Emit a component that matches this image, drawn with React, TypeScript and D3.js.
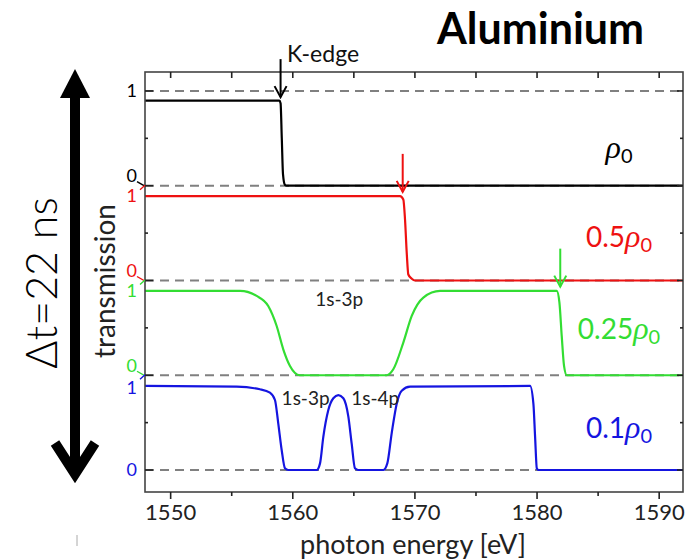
import * as d3 from "d3";

// transmission curves, [photon energy eV, transmission in panel units]
const blackCurve: [number, number][] = [
  [1547.9, 0.897], [1558.9, 0.897], [1559.0, 0.87], [1559.1, 0.5], [1559.2, 0.12],
  [1559.35, 0.01], [1559.5, 0], [1591.95, 0],
];
const redCurve: [number, number][] = [
  [1547.9, 0.89], [1568.78, 0.89], [1569.05, 0.855], [1569.19, 0.644], [1569.33, 0.292],
  [1569.46, 0.063], [1569.74, 0.018], [1570.0, 0], [1591.95, 0],
];
const greenCurve: [number, number][] = [
  [1547.9, 0.89], [1555.68, 0.89], [1557.04, 0.837], [1557.99, 0.731], [1558.68, 0.52],
  [1559.22, 0.274], [1559.77, 0.098], [1560.59, 0], [1567.69, 0], [1568.23, 0.063],
  [1569.05, 0.345], [1569.74, 0.626], [1570.69, 0.82], [1572.06, 0.89], [1581.61, 0.89],
  [1581.83, 0.77], [1582.02, 0.415], [1582.21, 0.098], [1582.43, 0], [1591.95, 0],
];
const blueCurve: [number, number][] = [
  [1547.9, 0.887], [1555.41, 0.879], [1557.31, 0.852], [1558.13, 0.816], [1558.54, 0.739],
  [1558.81, 0.493], [1559.09, 0.211], [1559.36, 0.018], [1559.63, 0], [1561.96, 0],
  [1562.23, 0.07], [1562.5, 0.35], [1562.91, 0.633], [1563.32, 0.757], [1563.73, 0.79],
  [1564.14, 0.757], [1564.55, 0.563], [1564.82, 0.28], [1565.09, 0.018], [1565.36, 0],
  [1567.41, 0], [1567.74, 0.07], [1568.1, 0.39], [1568.51, 0.7], [1568.92, 0.837],
  [1569.6, 0.879], [1579.43, 0.887], [1579.7, 0.7], [1579.84, 0.35], [1579.98, 0.018],
  [1580.1, 0], [1591.95, 0],
];

const densities = ["", "0.5", "0.25", "0.1"];
const offsets = [3, 2, 1, 0];
const colors = ["#000000", "#ee1111", "#33dd33", "#1515e0"];
const curves = [blackCurve, redCurve, greenCurve, blueCurve];
const plateau = [1, 0.89, 0.89, 0.87];
const edgeArrows = [1559.0, 1569.0, 1581.9];
const xTicks = [1550, 1560, 1570, 1580, 1590];
const xMinor = [1555, 1565, 1575, 1585];
const lineLabels = [
  { text: "1s-3p", e: 1563.8, v: 1.8 },
  { text: "1s-3p", e: 1561.05, v: 0.76 },
  { text: "1s-4p", e: 1566.75, v: 0.76 },
];

export default function App() {
  const width = 687, height = 560;
  const left = 145, right = 683, top = 72, bottom = 492;
  const x = d3.scaleLinear([1547.9, 1591.95], [left, right]);
  const y = d3.scaleLinear([-0.232, 4.2], [bottom, top]);
  const font = "Lato, 'Noto Sans', sans-serif";
  const labelLevel = [0.4, 0.46, 0.49, 0.44];

  const majorY = d3.range(0, 5);
  const minorY = d3.range(0.5, 4, 1);

  return (
    <svg width={width} height={height} style={{ position: "absolute", left: 0, top: 0 }} fontFamily={font}>
      <rect width={width} height={height} fill="#fff" />
      <text x={437} y={44} fontSize={43} fontWeight={700} fill="#000">Aluminium</text>

      {/* big time arrow */}
      <line x1={75} x2={75} y1={96} y2={474} stroke="#000" strokeWidth={10} />
      <path d="M75,69 L60,98 L90,98 Z" fill="#000" />
      <path d="M55,443 L75,474 L95,443" fill="none" stroke="#000" strokeWidth={10} />
      <text transform="translate(57,283) rotate(-90)" textAnchor="middle" fontSize={43} fontWeight={300}>Δt=22 ns</text>
      <text transform="translate(115,281) rotate(-90)" textAnchor="middle" fontSize={28} fill="#222">transmission</text>

      {/* dashed reference levels */}
      {[4, 3, 2, 1, 0].map((v) => (
        <line key={v} x1={left} x2={right} y1={y(v)} y2={y(v)} stroke="#808080" strokeWidth={2} strokeDasharray="9,6" />
      ))}

      {curves.map((c, i) => {
        const line = d3.line<[number, number]>()
          .x((d) => x(d[0]))
          .y((d) => y(offsets[i] + d[1]))
          .curve(d3.curveMonotoneX);
        return <path key={i} d={line(c) ?? ""} fill="none" stroke={colors[i]} strokeWidth={2.2} />;
      })}

      {/* frame */}
      <rect x={left} y={top} width={right - left} height={bottom - top} fill="none" stroke="#444" strokeWidth={1.6} />
      {majorY.map((v) => (
        <g key={v}>
          <line x1={left} x2={left + 8} y1={y(v)} y2={y(v)} stroke="#222" strokeWidth={1.6} />
          <line x1={right} x2={right - 6} y1={y(v)} y2={y(v)} stroke="#222" strokeWidth={1.6} />
        </g>
      ))}
      {minorY.map((v) => (
        <g key={v}>
          <line x1={left} x2={left + 3} y1={y(v)} y2={y(v)} stroke="#222" strokeWidth={1.6} />
          <line x1={right} x2={right - 3} y1={y(v)} y2={y(v)} stroke="#222" strokeWidth={1.6} />
        </g>
      ))}
      {xTicks.map((t) => (
        <g key={t}>
          <line x1={x(t)} x2={x(t)} y1={bottom} y2={bottom + 7} stroke="#222" strokeWidth={1.6} />
          <line x1={x(t)} x2={x(t)} y1={top} y2={top + 6} stroke="#222" strokeWidth={1.6} />
          <text x={x(t)} y={520} textAnchor="middle" fontSize={22} fill="#222">{t}</text>
        </g>
      ))}
      {xMinor.map((t) => (
        <g key={t}>
          <line x1={x(t)} x2={x(t)} y1={bottom} y2={bottom + 4} stroke="#222" strokeWidth={1.6} />
          <line x1={x(t)} x2={x(t)} y1={top} y2={top + 6} stroke="#222" strokeWidth={1.6} />
        </g>
      ))}
      <text x={413} y={554} textAnchor="middle" fontSize={27} fill="#222">photon energy [eV]</text>

      {/* left tick labels per panel, with break marks */}
      {offsets.map((o, i) => (
        <g key={i} fontSize={18} textAnchor="end" fill={colors[i]}>
          <text x={137} y={y(o + plateau[i])} dy="0.35em">1</text>
          <text x={137} y={o === 0 ? y(0) : y(o) - 10} dy="0.35em">0</text>
          {i > 0 && (
            <g strokeWidth={1.4}>
              <line x1={137} y1={y(o + 1) - 4} x2={144} y2={y(o + 1)} stroke={colors[i - 1]} />
              <line x1={140} y1={y(o + 1) + 4} x2={145} y2={y(o + 1) - 0.5} stroke={colors[i]} />
            </g>
          )}
        </g>
      ))}

      {/* absorption edge arrows */}
      {edgeArrows.map((e, i) => {
        const tip = y(offsets[i] + 0.935);
        const tail = tip - 38;
        return (
          <g key={i} stroke={colors[i]} strokeWidth={2} fill="none">
            <line x1={x(e)} x2={x(e)} y1={tail} y2={tip} />
            <path d={`M${x(e) - 6},${tip - 11} L${x(e)},${tip} L${x(e) + 6},${tip - 11}`} />
          </g>
        );
      })}
      <text x={287} y={62} fontSize={23} fill="#111">K-edge</text>

      {lineLabels.map((l, i) => (
        <text key={i} x={x(l.e)} y={y(l.v)} dy="0.35em" textAnchor="middle" fontSize={19} fill="#222">{l.text}</text>
      ))}

      {/* density labels */}
      {densities.map((d, i) => (
        <text key={i} x={619} y={y(offsets[i] + labelLevel[i])} dy="0.35em" textAnchor="middle" fontSize={28} fill={colors[i]}>
          {d}
          <tspan fontFamily="'Liberation Serif', serif" fontStyle="italic" fontSize={32}>ρ</tspan>
          <tspan fontSize={20} dy={5}>0</tspan>
        </text>
      ))}
      <line x1={77} x2={77} y1={535} y2={546} stroke="#aaa" strokeWidth={1} />
    </svg>
  );
}
